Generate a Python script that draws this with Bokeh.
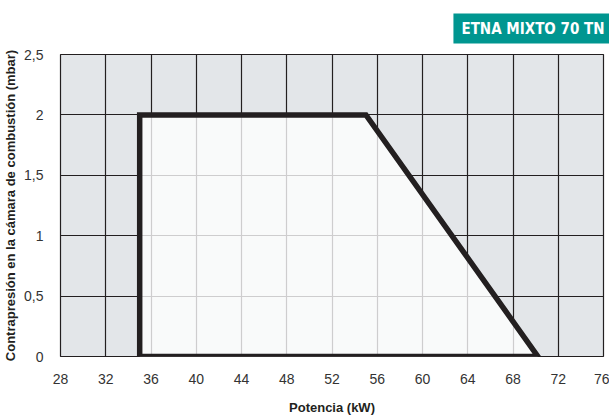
from bokeh.plotting import figure
from bokeh.models import Range1d, FixedTicker
from bokeh.embed import file_html
from bokeh.resources import INLINE

# data
x_ticks = [28, 32, 36, 40, 44, 48, 52, 56, 60, 64, 68, 72, 76]
y_ticks = [0, 0.5, 1, 1.5, 2, 2.5]
y_tick_labels = ["0", "0,5", "1", "1,5", "2", "2,5"]
power_kw = [35, 35, 55, 70.2]
pressure_mbar = [0, 2, 2, 0]
title_text = "ETNA MIXTO 70 TN"

DARK = "#231f20"
p = figure(frame_width=543, frame_height=302, output_backend="svg", toolbar_location=None,
           x_range=Range1d(28, 76), y_range=Range1d(0, 2.5),
           min_border_left=54, min_border_right=6, min_border_top=0, min_border_bottom=56)
p.background_fill_color = "#e3e6e9"
p.border_fill_color = "white"
p.outline_line_color = DARK
p.outline_line_width = 1.2

p.title.text = title_text
p.title.align = "right"
p.title.text_font = "'DejaVu Sans Condensed', 'Liberation Sans', sans-serif"
p.title.text_font_style = "bold"
p.title.text_font_size = "15px"
p.title.text_color = "white"
p.title.background_fill_color = "#009690"
p.title.padding = dict(left=8, right=8, top=6, bottom=6)
p.title.offset = -9
p.title.standoff = 22

p.xaxis.ticker = FixedTicker(ticks=x_ticks)
p.yaxis.ticker = FixedTicker(ticks=y_ticks)
p.yaxis.major_label_overrides = {t: l for t, l in zip(y_ticks, y_tick_labels)}
for ax in (p.xaxis, p.yaxis):
    ax.axis_line_color = None
    ax.major_tick_line_color = None
    ax.minor_tick_line_color = None
    ax.major_label_text_font = "Liberation Sans"
    ax.major_label_text_font_size = "14px"
    ax.major_label_text_color = "#333333"
    ax.axis_label_text_font = "Liberation Sans"
    ax.axis_label_text_font_style = "bold"
    ax.axis_label_text_font_size = "13px"
    ax.axis_label_text_color = DARK
p.xaxis.major_label_standoff = 11
p.yaxis.major_label_standoff = 11
p.xaxis.axis_label = "Potencia (kW)"
p.yaxis.axis_label = "Contrapresión en la cámara de combustión (mbar)"
p.xaxis.axis_label_standoff = 13
p.yaxis.axis_label_standoff = 3

for g in (p.xgrid, p.ygrid):
    g.grid_line_color = DARK
    g.grid_line_width = 1.2
    g.grid_line_alpha = 1.0

p.patch(power_kw, pressure_mbar, fill_color="white", fill_alpha=0.78,
        line_color=DARK, line_width=5.5, line_join="miter")

open("out.html", "w").write(file_html(p, INLINE))
